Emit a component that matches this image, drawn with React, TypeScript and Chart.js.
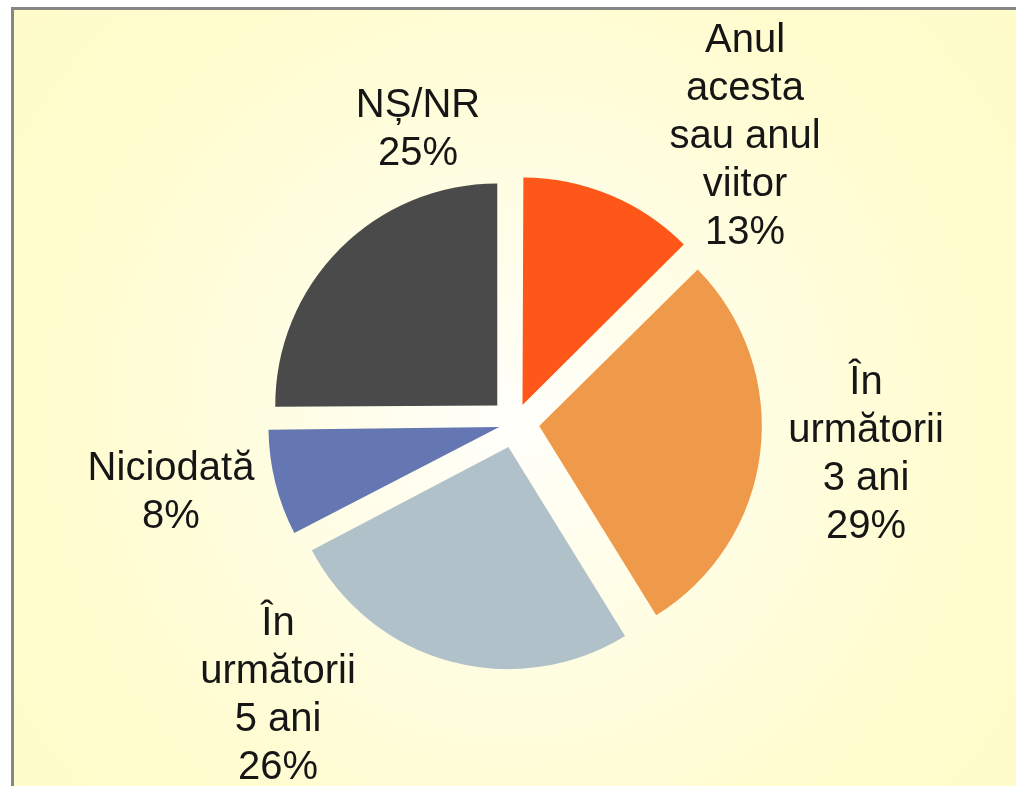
import React, { useEffect, useRef } from "react";
import { Chart, registerables } from "chart.js";

Chart.register(...registerables);

// ---- data ----
const categories: string[][] = [
  ["Anul", "acesta", "sau anul", "viitor"],
  ["În", "următorii", "3 ani"],
  ["În", "următorii", "5 ani"],
  ["Niciodată"],
  ["NȘ/NR"],
];
const values = [12.6, 28.6, 26.1, 7.6, 25.1];
const percentLabels = ["13%", "29%", "26%", "8%", "25%"];

// ---- styles ----
const sliceColors = ["#FF5719", "#EF9A4B", "#B0C1CA", "#6477B2", "#4A4A4A"];
const explode = 25; // desired slice displacement in px
const pieRadius = 222;
// label block placement relative to chart centre: [centre x offset, first baseline offset]
const labelPlacement: [number, number][] = [
  [230, -371],
  [351, -29],
  [-237, 212],
  [-344, 57],
  [-97, -306],
];
const lineHeight = 48;

const total = values.reduce((a, b) => a + b, 0);
const offsets = values.map((v) => {
  const circ = (v / total) * Math.PI * 2;
  return (4 * explode) / (2 - Math.sin(Math.min(Math.PI, circ)));
});

const labelPlugin = {
  id: "sliceLabels",
  afterDatasetsDraw(chart: any) {
    const ctx = chart.ctx;
    const meta = chart.getDatasetMeta(0);
    ctx.save();
    ctx.font = '40px "Liberation Sans", Arial, sans-serif';
    ctx.fillStyle = "#161616";
    ctx.textAlign = "center";
    ctx.textBaseline = "alphabetic";
    meta.data.forEach((arc: any, i: number) => {
      const cx = arc.x + labelPlacement[i][0];
      let y = arc.y + labelPlacement[i][1];
      const lines = [...categories[i], percentLabels[i]];
      lines.forEach((ln) => {
        ctx.fillText(ln, cx, y);
        y += lineHeight;
      });
    });
    ctx.restore();
  },
};

export default function App() {
  const ref = useRef<HTMLCanvasElement | null>(null);
  useEffect(() => {
    if (!ref.current) return;
    const chart = new Chart(ref.current, {
      type: "pie",
      data: {
        labels: categories.map((c) => c.join(" ")),
        datasets: [
          {
            data: values,
            backgroundColor: sliceColors,
            borderWidth: 0,
            offset: offsets,
            radius: pieRadius,
          } as any,
        ],
      },
      options: {
        animation: false,
        responsive: false,
        devicePixelRatio: 1,
        layout: { padding: { left: 14, right: 0, top: 60, bottom: 0 } },
        plugins: {
          legend: { display: false },
          tooltip: { enabled: false },
        },
        events: [],
      } as any,
      plugins: [labelPlugin],
    });
    return () => chart.destroy();
  }, []);

  return (
    <div
      style={{
        position: "fixed",
        left: 0,
        top: 0,
        width: 1016,
        height: 786,
        background: "#ffffff",
        overflow: "hidden",
      }}
    >
      <div
        style={{
          position: "absolute",
          left: 11,
          top: 7,
          right: 0,
          bottom: 0,
          borderLeft: "3px solid #868686",
          borderTop: "3px solid #868686",
          background:
            "radial-gradient(circle at 501px 410px, #fffffb 0px, #fffeee 130px, #fffddc 300px, #fffcce 480px, #fffcc8 750px)",
        }}
      />
      <canvas
        ref={ref}
        width={1016}
        height={786}
        style={{ position: "absolute", left: 0, top: 0, display: "block" }}
      />
    </div>
  );
}
